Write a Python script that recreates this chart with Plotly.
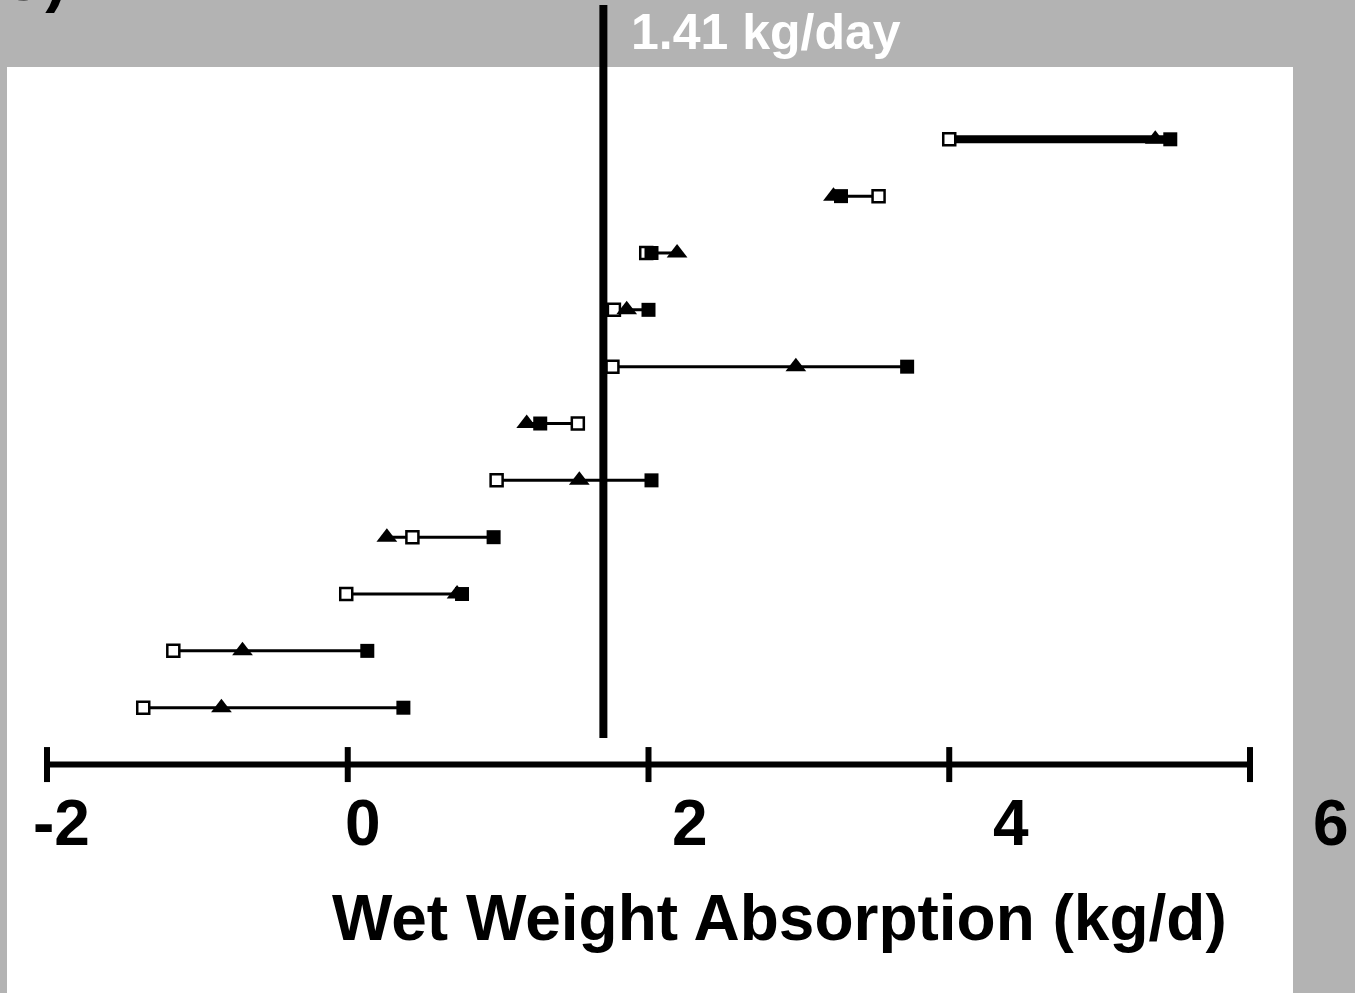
import plotly.graph_objects as go

# ---------------- data ----------------
ROW_POSITIONS = [11, 10, 9, 8, 7, 6, 5, 4, 3, 2, 1]
OPEN_SQUARE = [4.00, 3.53, 1.985, 1.77, 1.76, 1.53, 0.99, 0.43, -0.01, -1.16, -1.36]
TRIANGLE = [5.37, 3.23, 2.19, 1.855, 2.98, 1.19, 1.54, 0.26, 0.727, -0.70, -0.84]
FILLED_SQUARE = [5.47, 3.28, 2.02, 2.00, 3.72, 1.28, 2.02, 0.97, 0.76, 0.13, 0.37]
REFERENCE_VALUE = 1.70
REFERENCE_LABEL = "1.41 kg/day"
TICK_VALUES = [-2, 0, 2, 4, 6]
TICK_LABELS = ["-2", "0", "2", "4", "6"]
AXIS_TITLE = "Wet Weight Absorption (kg/d)"
PANEL_LABEL = "C)."

# ---------------- style ----------------
ROW_LINE_WIDTHS = [8, 3, 3, 3, 3, 3, 3, 3, 3, 3, 3]
FONT = "Liberation Sans, Arial, sans-serif"
GRAY = "#b3b3b3"
W, H = 1355, 993
M_L, M_R, M_T, M_B = 7, 62, 67, 0

fig = go.Figure()

# connecting lines for each row
for y, o, t, f, lw in zip(ROW_POSITIONS, OPEN_SQUARE, TRIANGLE, FILLED_SQUARE, ROW_LINE_WIDTHS):
    vals = [o, t, f]
    fig.add_trace(go.Scatter(x=[min(vals), max(vals)], y=[y, y], mode="lines",
                             line=dict(color="black", width=lw), hoverinfo="skip",
                             showlegend=False))

fig.add_trace(go.Scatter(x=OPEN_SQUARE, y=ROW_POSITIONS, mode="markers",
                         marker=dict(symbol="square", size=12, color="white",
                                     line=dict(color="black", width=2.5)),
                         showlegend=False))
fig.add_trace(go.Scatter(x=TRIANGLE, y=ROW_POSITIONS, mode="markers",
                         marker=dict(symbol="triangle-up", size=18, color="black",
                                     line=dict(width=0)),
                         showlegend=False))
fig.add_trace(go.Scatter(x=FILLED_SQUARE, y=ROW_POSITIONS, mode="markers",
                         marker=dict(symbol="square", size=14, color="black",
                                     line=dict(width=0)),
                         showlegend=False))

# axis line and ticks
fig.add_trace(go.Scatter(x=[TICK_VALUES[0], TICK_VALUES[-1]], y=[0, 0], mode="lines",
                         line=dict(color="black", width=6), hoverinfo="skip",
                         showlegend=False))
fig.add_trace(go.Scatter(x=TICK_VALUES, y=[0] * len(TICK_VALUES), mode="markers",
                         marker=dict(symbol="line-ns", size=25,
                                     line=dict(color="black", width=6)),
                         hoverinfo="skip", showlegend=False, cliponaxis=False))

# reference vertical line
fig.add_shape(type="line", xref="x", yref="paper", x0=REFERENCE_VALUE, x1=REFERENCE_VALUE,
              y0=0.2754, y1=1.067, line=dict(color="black", width=8), layer="above")

plot_w = W - M_L - M_R
plot_h = H - M_T - M_B


def px_x(p):
    return (p - M_L) / plot_w


def px_y(p):
    return (H - M_B - p) / plot_h


annotations = []
label_px = [62, 363, 690, 1011, 1331]
for lab, p in zip(TICK_LABELS, label_px):
    annotations.append(dict(text=lab, xref="paper", yref="paper", x=px_x(p), y=px_y(823),
                            xanchor="center", yanchor="middle", showarrow=False,
                            font=dict(family=FONT, size=64, color="black", weight="bold")))
annotations.append(dict(text=AXIS_TITLE, xref="paper", yref="paper", x=px_x(780), y=px_y(918),
                        xanchor="center", yanchor="middle", showarrow=False,
                        font=dict(family=FONT, size=64, color="black", weight="bold")))
annotations.append(dict(text=REFERENCE_LABEL, xref="paper", yref="paper", x=px_x(766), y=px_y(32),
                        xanchor="center", yanchor="middle", showarrow=False,
                        font=dict(family=FONT, size=50, color="white", weight="bold")))
annotations.append(dict(text=PANEL_LABEL, xref="paper", yref="paper", x=px_x(-3), y=px_y(-22),
                        xanchor="left", yanchor="middle", showarrow=False,
                        font=dict(family=FONT, size=64, color="black", weight="bold")))

fig.update_layout(
    width=W, height=H,
    margin=dict(l=M_L, r=M_R, t=M_T, b=M_B, pad=0),
    paper_bgcolor=GRAY, plot_bgcolor="white",
    showlegend=False,
    annotations=annotations,
    xaxis=dict(range=[-2.266, 6.286], visible=False, showgrid=False, zeroline=False),
    yaxis=dict(range=[-4.019, 12.272], visible=False, showgrid=False, zeroline=False),
)

fig.write_html("out.html", config={"displayModeBar": False})

# remove default page margin so the figure fills the window like the reference
with open("out.html", "r", encoding="utf-8") as fh:
    html = fh.read()
html = html.replace("<head>", "<head><style>html,body{margin:0;padding:0;overflow:hidden;background:#b3b3b3;}</style>", 1)
with open("out.html", "w", encoding="utf-8") as fh:
    fh.write(html)
